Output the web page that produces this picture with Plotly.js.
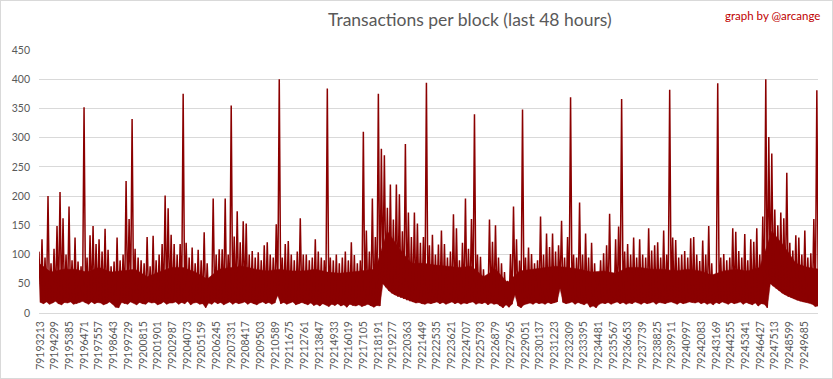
<!DOCTYPE html>
<html><head><meta charset="utf-8">
<script src="https://cdn.plot.ly/plotly-3.0.1.min.js"></script>
<style>
html,body{margin:0;padding:0;background:#fff;}
#wrap{position:relative;width:833px;height:379px;}
#chart{width:833px;height:379px;}
#frame{position:absolute;left:0;top:0;width:831px;height:377px;border:1px solid #d9d9d9;pointer-events:none;}
</style>
</head><body>
<div id="wrap"><div id="chart"></div><div id="frame"></div></div>
<script>
// x-axis category labels (block numbers)
const tickLabels = ["79193213","79194299","79195385","79196471","79197557","79198643","79199729","79200815","79201901","79202987","79204073","79205159","79206245","79207331","79208417","79209503","79210589","79211675","79212761","79213847","79214933","79216019","79217105","79218191","79219277","79220363","79221449","79222535","79223621","79224707","79225793","79226879","79227965","79229051","79230137","79231223","79232309","79233395","79234481","79235567","79236653","79237739","79238825","79239911","79240997","79242083","79243169","79244255","79245341","79246427","79247513","79248599","79249685"];

// sampled blocks: first block and block span of each sample
const firstBlock = 79193117;
const blockSpan = 222;

// highest transactions per block in each span
const highA = [105,126,95,200,85,110,149,207,162,100,182,90,129,88,80,352,95,133,149,118,126,105,144,108,80,88,129,90,100,226,161,332,110,95,90,85,130,80,132,90,100,118,201,179];
const highB = [134,118,100,118,375,120,95,112,85,108,90,138,85,60,196,100,109,109,196,100,355,131,174,121,157,153,100,106,95,104,90,116,121,100,95,152,400,95,118,123,100,90,105,162];
const highC = [100,100,90,95,126,105,95,90,384,95,90,100,85,95,105,90,121,99,85,90,310,141,105,196,130,375,281,270,180,220,160,220,203,140,289,172,130,172,153,120,130,394,116];
const highD = [134,100,117,141,118,95,105,169,145,90,120,196,110,161,340,100,96,75,60,160,122,150,95,85,70,55,101,182,126,90,348,95,112,101,85,90,165,100,136,113,136,105,116];
const highE = [158,95,130,369,100,95,189,100,136,95,120,85,65,90,102,116,170,60,126,148,366,105,118,100,129,95,126,100,95,145,107,116,121,95,141,100,382,129,125,95,100,106,95,128];
const highF = [130,100,89,124,100,149,85,65,393,95,101,90,95,145,139,106,95,135,90,126,122,145,100,165,400,301,273,177,150,172,162,240,120,107,133,129,100,141,95,102,161,381];

// lowest transactions per block in each span
const lowA = [18,16,19,15,17,20,16,14,18,17,19,15,16,18,20,17,15,19,16,18,17,14,16,19,15,10,9,18,16,15,19,17,14,18,16,15,19,17,18,14,16,19,15,17];
const lowB = [17,19,15,18,16,20,14,17,18,15,16,9,17,15,19,16,18,14,17,19,15,18,16,17,19,15,18,16,14,17,19,16,18,15,17,30,16,18,15,17,19,14,16,18];
const lowC = [16,14,17,13,15,12,16,14,11,15,13,16,12,14,10,15,13,12,14,11,13,15,12,10,13,12,50,44,38,34,31,28,26,24,22,20,19,17,18,16,15,17,16];
const lowD = [17,19,16,18,15,17,19,16,18,15,17,16,18,19,15,17,16,18,14,17,15,16,12,9,14,10,15,31,12,9,14,16,17,15,18,16,17,15,18,16,17,19,42];
const lowE = [18,16,17,19,15,18,16,14,17,10,12,9,15,17,16,18,15,17,19,16,18,15,17,16,19,17,15,18,16,17,19,15,18,17,16,18,19,17,15,18,16,17,19,18];
const lowF = [17,19,16,18,15,17,14,18,16,19,17,15,18,16,17,19,15,18,16,14,17,12,16,15,9,50,46,42,38,34,31,28,26,24,22,20,19,18,17,15,11,12];

// level up to which the dense band is solid, every 4 spans
const coreTop = [85,70,75,75,70,78,70,72,75,62,70,78,78,70,58,75,78,80,75,72,75,72,72,75,70,68,70,72,75,140,110,85,85,82,80,78,80,62,75,52,72,75,78,80,78,75,70,72,68,78,78,75,75,72,75,72,65,72,75,72,78,140,115,85,78,75];

const highs = [].concat(highA, highB, highC, highD, highE, highF);
const lows = [].concat(lowA, lowB, lowC, lowD, lowE, lowF);

const xs = [], ys = [];
const lowX = [];
for (let k = 0; k < highs.length; k++) {
  const b = firstBlock + k * blockSpan;
  xs.push(b); ys.push(highs[k]);
  xs.push(b + blockSpan / 2); ys.push(lows[k]);
  lowX.push(b + blockSpan / 2);
}
// solid core polygon: top along coreTop, back along lows
const polyX = [], polyY = [];
for (let j = 0; j < coreTop.length; j++) {
  polyX.push(firstBlock + j * 4 * blockSpan); polyY.push(coreTop[j]);
}
for (let k = lows.length - 1; k >= 0; k--) {
  polyX.push(lowX[k]); polyY.push(lows[k]);
}

const FONT = "Lato, 'Open Sans', sans-serif";
const RED = '#8b0000';
const core = {
  type: 'scatter', mode: 'lines', x: polyX, y: polyY,
  fill: 'toself', fillcolor: RED, line: {color: RED, width: 0.5},
  hoverinfo: 'skip'
};
const trace = {
  type: 'scatter', mode: 'lines', x: xs, y: ys,
  line: {color: RED, width: 1.5, simplify: false},
  hoverinfo: 'skip'
};

const layout = {
  width: 833, height: 379,
  margin: {l: 39, r: 15, t: 50, b: 66},
  paper_bgcolor: '#ffffff', plot_bgcolor: '#ffffff',
  showlegend: false,
  font: {family: FONT, color: '#595959'},
  title: {
    text: 'Transactions per block (last 48 hours)',
    font: {family: FONT, size: 17.5, color: '#595959'},
    xref: 'container', yref: 'container', x: 0.564, y: 0.947,
    xanchor: 'center', yanchor: 'middle'
  },
  xaxis: {
    type: 'linear',
    range: [79193117, 79250701],
    tickmode: 'array',
    tickvals: tickLabels.map(Number),
    ticktext: tickLabels,
    tickangle: -90,
    tickfont: {family: FONT, size: 10.5, color: '#595959'},
    showgrid: false, zeroline: false,
    showline: false, ticks: '',
    ticklabelstandoff: 5
  },
  yaxis: {
    range: [0, 450],
    tickmode: 'linear', tick0: 0, dtick: 50,
    tickfont: {family: FONT, size: 10.5, color: '#595959'},
    showgrid: true, gridcolor: '#d9d9d9', gridwidth: 1,
    zeroline: true, zerolinecolor: '#d9d9d9', zerolinewidth: 1,
    showline: false, ticks: '',
    ticklabelstandoff: 8
  },
  annotations: [{
    text: 'graph by @arcange',
    xref: 'paper', yref: 'paper', x: 1.005, y: 1.132,
    xanchor: 'right', yanchor: 'middle', showarrow: false,
    font: {family: FONT, size: 11.5, color: '#c00000'}
  }]
};

Plotly.newPlot('chart', [core, trace], layout, {staticPlot: true, displayModeBar: false});
</script>
</body></html>
